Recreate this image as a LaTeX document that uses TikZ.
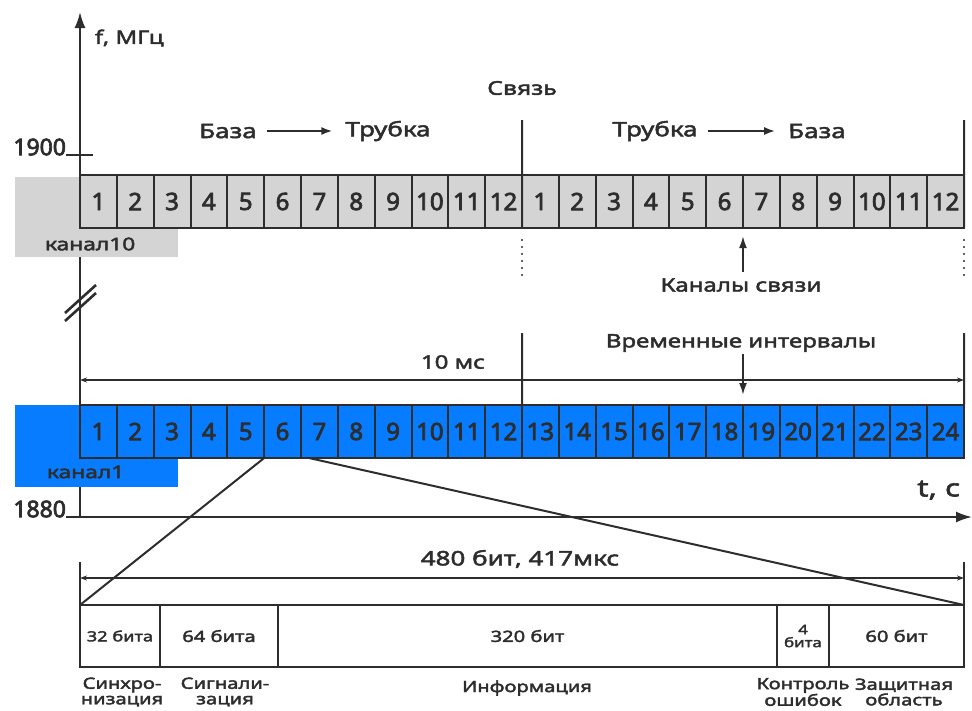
\documentclass[tikz,border=0pt]{standalone}
\usepackage{fontspec}
\setmainfont{Noto Sans}
\newfontfamily\widefont{Noto Sans}[FakeStretch=1.3,FakeBold=2.5]
\newfontfamily\digfont{Noto Sans}[FakeBold=3]
\usetikzlibrary{arrows.meta}
\definecolor{txt}{RGB}{45,45,45}
\definecolor{greyfill}{RGB}{212,212,212}
\definecolor{bluefill}{RGB}{8,124,255}
\newcommand{\wf}[1]{\widefont\fontsize{#1}{#1}\selectfont}
\newcommand{\df}[1]{\digfont\fontsize{#1}{#1}\selectfont}
\begin{document}
\begin{tikzpicture}[x=1pt,y=-1pt,
  line width=2pt, draw=txt, text=txt,
  gbox/.style={draw=txt, fill=greyfill, minimum width=36.833pt, minimum height=53pt, inner sep=0pt, outer sep=0pt, font=\df{24}},
  bbox/.style={draw=txt, fill=bluefill, minimum width=36.833pt, minimum height=53pt, inner sep=0pt, outer sep=0pt, font=\df{24}},
  seg/.style={draw=txt, minimum height=62pt, inner sep=0pt, outer sep=0pt, font=\wf{15.5}},
  lbl/.style={inner sep=0pt, font=\wf{18.5}},
  small/.style={inner sep=0pt, align=center, font=\wf{15.5}},
  dimline/.style={line width=1.6pt, {Stealth[length=7pt,width=5pt]}-{Stealth[length=7pt,width=5pt]}},
  dots/.style={line width=2.4pt, line cap=round, dash pattern=on 0pt off 7pt}
]
\useasboundingbox (0,0) rectangle (972,710);
% axes
\coordinate (O) at (80,517);
\coordinate (ftop) at (80,12);
\coordinate (tend) at (972,517);
\draw[-{Latex[length=16pt,width=11pt]}] (O) -- (ftop);
\draw[-{Latex[length=16pt,width=11pt]}] (O) -- (tend);
% break marks
\draw[line width=2.6pt] (65,313) -- (96,285);
\draw[line width=2.6pt] (65,321) -- (96,293);
% ticks
\coordinate (t1900a) at (66,155); \coordinate (t1900b) at (93,155);
\draw (t1900a) -- (t1900b);
\coordinate (t1880a) at (66,517);
\draw (t1880a) -- (O);
\node[inner sep=0pt, anchor=east, font=\df{23}] (n1900) at (67,147) {1900};
\node[inner sep=0pt, anchor=east, font=\df{23}] (n1880) at (67,509) {1880};
\node[lbl, anchor=west] (fl) at (94,38) {f, МГц};
\node[lbl, anchor=east, font=\wf{24}] (tl) at (961,490) {t, c};
% background channel rectangles
\fill[greyfill] (15,177) rectangle (178,257);
\fill[bluefill] (15,405) rectangle (178,487);
\node[lbl, anchor=west, font=\wf{17.5}] (k10) at (44,244) {канал10};
\node[lbl, anchor=west, font=\wf{17.5}] (k1) at (46,472) {канал1};
% boxes
\foreach \i in {1,...,24}{
  \pgfmathtruncatemacro\lab{mod(\i-1,12)+1}
  \node[gbox] (g\i) at ({80+(\i-0.5)*36.833},201.5) {\lab};
  \node[bbox] (b\i) at ({80+(\i-0.5)*36.833},431.5) {\i};
}
% top labels
\node[lbl, font=\wf{19}] (svyaz) at (522,88) {Связь};
\node[lbl, font=\wf{20}] (baza1) at (228,131) {База};
\node[lbl, font=\wf{20}] (trub1) at (388,131) {Трубка};
\draw[-{Latex[length=11pt,width=8pt]}] ([xshift=9pt]baza1.east) -- ([xshift=-12pt]trub1.west);
\node[lbl, font=\wf{20}] (trub2) at (655,131) {Трубка};
\node[lbl, font=\wf{20}] (baza2) at (817,131) {База};
\draw[-{Latex[length=11pt,width=8pt]}] ([xshift=9pt]trub2.east) -- ([xshift=-12pt]baza2.west);
% Svyaz lines
\coordinate (v1top) at (522,120);
\coordinate (v2top) at (964,120);
\draw (v1top) -- (g12.south east);
\draw (v2top) -- (g24.south east);
\draw[dots] ([yshift=-12pt]g12.south east) -- ([yshift=-54pt]g12.south east);
\draw[dots] ([yshift=-12pt]g24.south east) -- ([yshift=-54pt]g24.south east);
\node[lbl] (kan) at (741,285) {Каналы связи};
\draw[-{Latex[length=12pt,width=8pt]}] ([yshift=5pt]kan.north -| g19.south west) -- ([yshift=-8pt]g19.south west);
% 10 ms
\coordinate (d1a) at (80,380); \coordinate (d1b) at (964,380);
\draw[dimline] (d1a) -- (d1b);
\node[lbl] (ms) at (453,362) {10 мс};
\coordinate (v3top) at (522,333);
\coordinate (v4top) at (964,333);
\draw (v3top) -- (b12.north east);
\draw (v4top) -- (b24.north east);
\node[lbl] (vrem) at (741,343) {Временные интервалы};
\draw[-{Latex[length=12pt,width=8pt]}] ([yshift=-1pt]vrem.south -| b19.north west) -- ([yshift=10pt]b19.north west);
% bottom frame
\node[seg, minimum width=80pt, font=\wf{14}] (s1) at (120,636) {32 бита};
\node[seg, minimum width=118pt] (s2) at (219,636) {64 бита};
\node[seg, minimum width=499pt] (s3) at (527.5,636) {320 бит};
\node[seg, minimum width=52pt, align=center, font=\wf{13}] (s4) at (803,636) {4\\бита};
\node[seg, minimum width=135pt] (s5) at (896.5,636) {60 бит};
\coordinate (v5top) at (80,562);
\coordinate (v6top) at (964,562);
\draw (v5top) -- (s1.north west);
\draw (v6top) -- (s5.north east);
\coordinate (d2a) at (80,578); \coordinate (d2b) at (964,578);
\draw[dimline] (d2a) -- (d2b);
\node[lbl, font=\wf{20}] (bits) at (520,559) {480 бит, 417мкс};
% zoom lines
\draw (b6.south west) -- (s1.north west);
\draw ([xshift=8pt]b6.south east) -- (s5.north east);
% bottom labels
\node[small] (l1) at (122,692) {Синхро-\\низация};
\node[small] (l2) at (225,692) {Сигнали-\\зация};
\node[small] (l3) at (527,688) {Информация};
\node[small] (l4) at (803,692) {Контроль\\ошибок};
\node[small] (l5) at (904,692) {Защитная\\область};
\end{tikzpicture}
\end{document}
